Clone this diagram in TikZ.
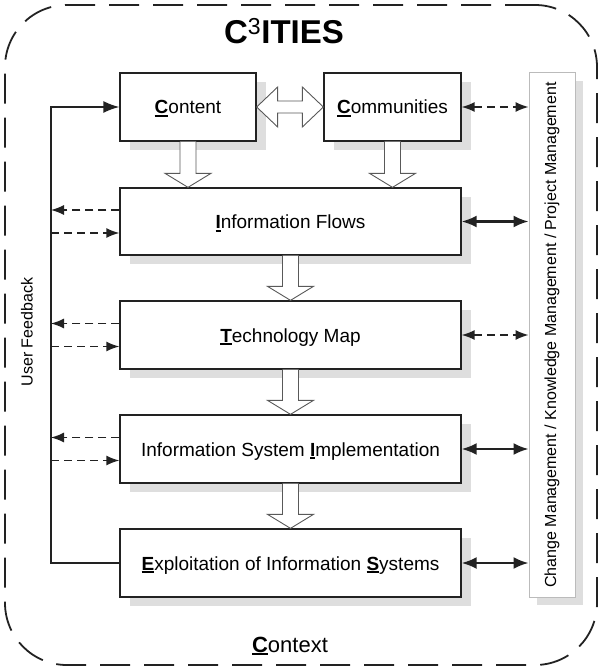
\documentclass[tikz,border=0pt]{standalone}
\usepackage{fontspec}
\setmainfont{Liberation Sans}
\usetikzlibrary{arrows.meta,calc,shadows}
\definecolor{shd}{HTML}{DEDEDE}
\definecolor{ink}{HTML}{222222}
\definecolor{barline}{HTML}{BBBBBB}
\newcommand\ulbf[1]{\setbox0\hbox{\textbf{#1}}\rlap{\rule[-3pt]{\wd0}{1.6pt}}\box0}
\newcommand\downblock[2]{%
  \filldraw[barrow] let \p1=(#1), \p2=(#2) in
    (\x1-8pt,\y1) -- (\x1-8pt,\y2+14pt) -- (\x1-23pt,\y2+14pt) -- (\x1,\y2)
    -- (\x1+23pt,\y2+14pt) -- (\x1+8pt,\y2+14pt) -- (\x1+8pt,\y1);}
\begin{document}
\begin{tikzpicture}[x=1pt,y=-1pt,
  box/.style={draw=ink, line width=1.3pt, fill=white, rectangle, inner sep=0pt,
    text height=14pt, text depth=0pt, font=\fontsize{19}{22}\selectfont,
    general shadow={fill=shd, shadow xshift=10pt, shadow yshift=-9pt}},
  mgmtbar/.style={draw=barline, line width=1pt, fill=white, rectangle, inner sep=0pt,
    font=\fontsize{16}{18}\selectfont,
    general shadow={fill=shd, shadow xshift=8pt, shadow yshift=-8pt}},
  frame/.style={draw=ink, line width=1.8pt, dash pattern=on 30pt off 14pt,
    rounded corners=62pt, rectangle, inner sep=0pt},
  barrow/.style={draw=gray!70!black, line width=0.9pt, fill=white},
  fbl/.style={draw=ink, line width=1.6pt, -{Latex[length=16pt,width=12pt]}},
  dfb/.style={draw=ink, line width=1.4pt, dash pattern=on 8pt off 5pt,
    -{Latex[length=13pt,width=10pt]}},
  dbl/.style={draw=ink, line width=2.2pt,
    {Latex[length=15pt,width=12pt]}-{Latex[length=15pt,width=12pt]}},
  dbld/.style={draw=ink, line width=1.4pt, dash pattern=on 8pt off 5pt,
    {Latex[length=13pt,width=10pt]}-{Latex[length=13pt,width=10pt]}}]
\useasboundingbox (0,0) rectangle (599,668);

\node[frame, minimum width=592pt, minimum height=660pt] (ctx) at (301,335) {};
\node[font=\fontsize{33}{36}\selectfont\bfseries] (title) at (284,31.5) {C\textsuperscript{\mdseries 3}ITIES};
\node[anchor=base, font=\fontsize{22}{24}\selectfont] (ctxlabel) at (290,652) {\ulbf{C}ontext};

\node[box, minimum width=136pt, minimum height=68pt] (content) at (188,107) {\ulbf{C}ontent};
\node[box, minimum width=137pt, minimum height=68pt] (comm) at (392.5,107) {\ulbf{C}ommunities};
\node[box, minimum width=341pt, minimum height=67pt] (if) at (290.5,221.5) {\ulbf{I}nformation Flows};
\node[box, minimum width=341pt, minimum height=68pt] (tm) at (290.5,335) {\ulbf{T}echnology Map};
\node[box, minimum width=341pt, minimum height=68pt] (isi) at (290.5,449) {Information System \ulbf{I}mplementation};
\node[box, minimum width=341pt, minimum height=68pt] (eis) at (290.5,563) {\ulbf{E}xploitation of Information \ulbf{S}ystems};

\node[mgmtbar, minimum width=46pt, minimum height=524pt] (bar) at (552,335)
  {\rotatebox{90}{Change Management / Knowledge Management / Project Management}};

\node[rotate=90, font=\fontsize{16}{18}\selectfont] (uf) at (27,332) {User Feedback};

% block arrows
\downblock{content.south}{content.south |- if.north}
\downblock{comm.south}{comm.south |- if.north}
\downblock{if.south}{tm.north}
\downblock{tm.south}{isi.north}
\downblock{isi.south}{eis.north}
\filldraw[barrow] let \p1=(content.east), \p2=(comm.west) in
  (\x1,\y1) -- (\x1+21pt,\y1+20pt) -- (\x1+21pt,\y1+6pt) -- (\x2-21pt,\y1+6pt)
  -- (\x2-21pt,\y1+20pt) -- (\x2,\y1) -- (\x2-21pt,\y1-20pt) -- (\x2-21pt,\y1-6pt)
  -- (\x1+21pt,\y1-6pt) -- (\x1+21pt,\y1-20pt) -- cycle;

% feedback loop
\coordinate (fb) at (51,0);
\draw[fbl] (eis.west) -| (fb |- content.west) -- (content.west);
\foreach \b in {if,tm,isi}{
  \draw[dfb] ([yshift=11.5pt]\b.west) -- ([yshift=11.5pt]\b.west -| fb);
  \draw[dfb] ([yshift=-11.5pt]\b.west -| fb) -- ([yshift=-11.5pt]\b.west);
}

% management connections
\draw[dbld] (comm.east) -- (comm.east -| bar.west);
\draw[dbl] (if.east) -- (if.east -| bar.west);
\draw[dbld] (tm.east) -- (tm.east -| bar.west);
\draw[dbl] (isi.east) -- (isi.east -| bar.west);
\draw[dbl] (eis.east) -- (eis.east -| bar.west);
\end{tikzpicture}
\end{document}
